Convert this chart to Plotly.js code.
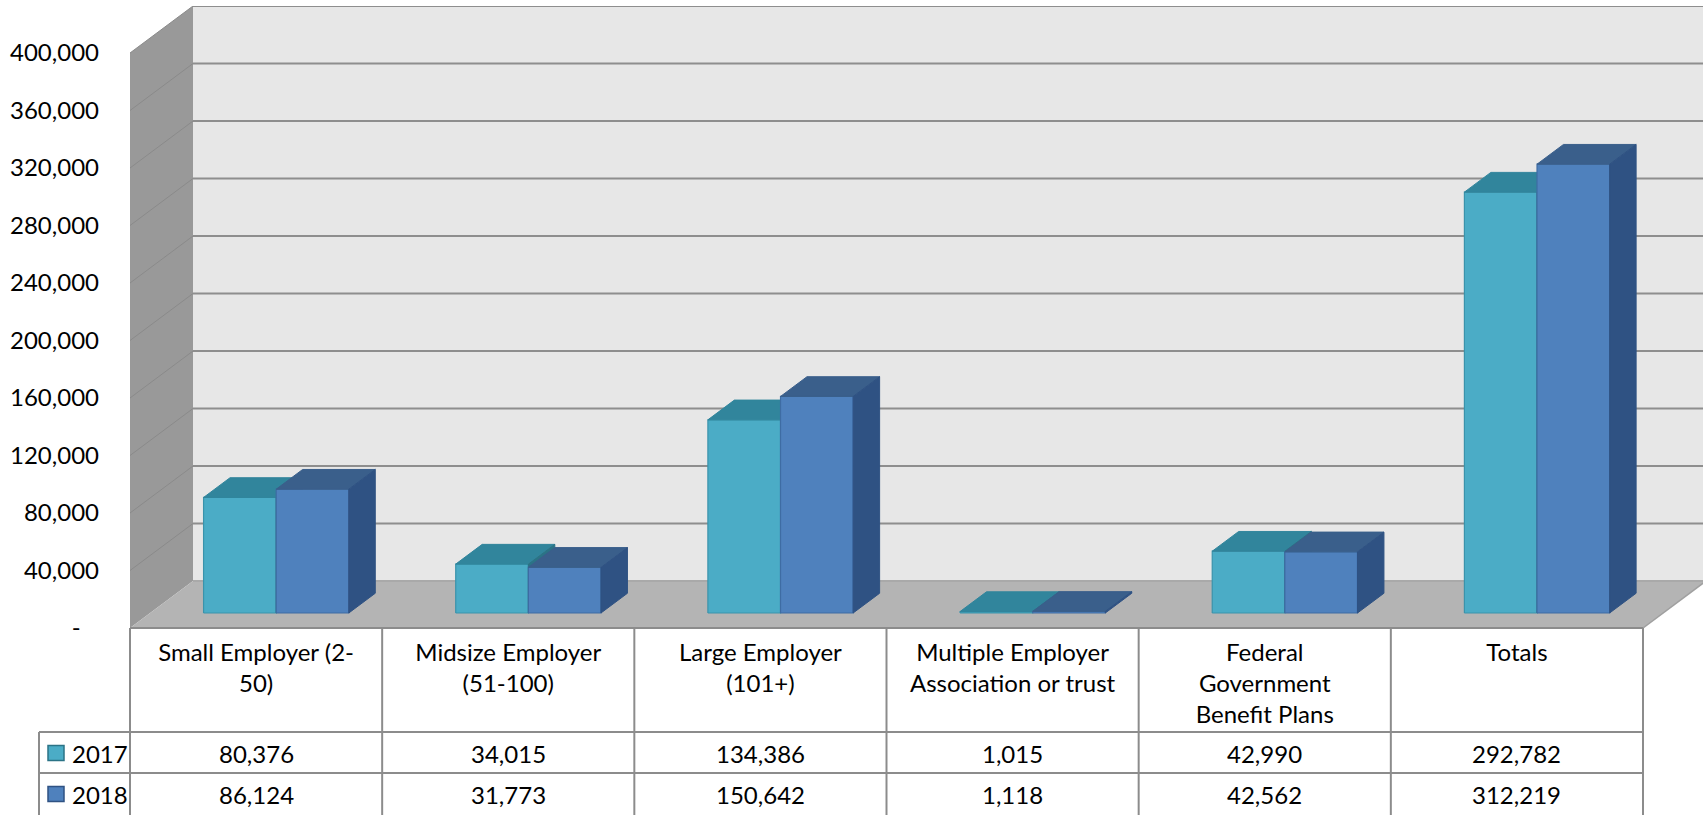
<!DOCTYPE html>
<html>
<head>
<meta charset="utf-8">
<script src="https://cdn.plot.ly/plotly-3.0.1.min.js"></script>
<style>
html,body{margin:0;padding:0;background:#fff;overflow:hidden}
#chart{width:1703px;height:815px}
</style>
</head>
<body>
<div id="chart"></div>
<script>
// ---------------- data ----------------
const categories = [
  "Small Employer (2-<br>50)",
  "Midsize Employer<br>(51-100)",
  "Large Employer<br>(101+)",
  "Multiple Employer<br>Association or trust",
  "Federal<br>Government<br>Benefit Plans",
  "Totals"
];
const seriesNames = ["2017", "2018"];
const values2017 = [80376, 34015, 134386, 1015, 42990, 292782];
const values2018 = [86124, 31773, 150642, 1118, 42562, 312219];
const yTickValues = [0, 40000, 80000, 120000, 160000, 200000, 240000, 280000, 320000, 360000, 400000];
const yTickLabels = ["-\u00a0\u00a0\u00a0", "40,000", "80,000", "120,000", "160,000", "200,000", "240,000", "280,000", "320,000", "360,000", "400,000"];

// ---------------- style ----------------
const FONT = "Lato, 'Liberation Sans', sans-serif";
const frontColors = ["#4BACC6", "#4F81BD"];
const frontLines  = ["#3A93AB", "#3E6CA3"];
const topColors   = ["#31859C", "#3A5F8B"];
const sideColors  = ["#2B7386", "#2F5283"];

// geometry (pixel layout of the 3-D frame)
const W = 1703, H = 815;
const L = 130, T = 6, B = 628, R = 1703;
const CAT_PX = (1643 - 130) / 6;
const Y_PX = 575 / 400000;
const DX = 63 / CAT_PX;      // full depth, x units
const DY = 47 / Y_PX;        // full depth, y units
const xRange = [-0.5, -0.5 + (R - L) / CAT_PX];
const yRange = [0, (B - T) / Y_PX];
const D0 = 15 / 47;          // bar front plane depth fraction
const BD = 0.42;             // bar depth fraction
const BAR_W = 0.288;
const BAR_START = 0.212;
const px2paperX = p => (p - L) / (R - L);
const py2paperY = p => (B - p) / (B - T);

const seriesValues = [values2017, values2018];

// ---------------- bar faces ----------------
const traces = [];
seriesValues.forEach((vals, s) => {
  const fx = [], fy = [], tx = [], ty = [], sx = [], sy = [];
  vals.forEach((v, i) => {
    const x0 = i - 0.5 + BAR_START + s * BAR_W + D0 * DX;
    const x1 = x0 + BAR_W;
    const base = D0 * DY;
    const top = base + v;
    const bdx = BD * DX, bdy = BD * DY;
    fx.push(x0, x1, x1, x0, x0, null);
    fy.push(base, base, top, top, base, null);
    tx.push(x0, x1, x1 + bdx, x0 + bdx, x0, null);
    ty.push(top, top, top + bdy, top + bdy, top, null);
    sx.push(x1, x1 + bdx, x1 + bdx, x1, x1, null);
    sy.push(base, base + bdy, top + bdy, top, base, null);
  });
  const common = {type: "scatter", mode: "lines", fill: "toself", hoverinfo: "skip", showlegend: false};
  traces.push(Object.assign({}, common, {name: seriesNames[s], x: fx, y: fy, fillcolor: frontColors[s], line: {color: frontLines[s], width: 1.2}}));
  traces.push(Object.assign({}, common, {name: seriesNames[s] + " top", x: tx, y: ty, fillcolor: topColors[s], line: {color: topColors[s], width: 1}}));
  traces.push(Object.assign({}, common, {name: seriesNames[s] + " side", x: sx, y: sy, fillcolor: sideColors[s], line: {color: sideColors[s], width: 1}}));
});

// ---------------- frame shapes ----------------
const shapes = [];
const xBackL = -0.5 + DX, xFar = xRange[1] + 1;
// back wall
shapes.push({type: "rect", xref: "x", yref: "y", x0: xBackL, x1: xFar, y0: DY, y1: 400000 + DY,
  fillcolor: "#E7E7E7", line: {width: 0}, layer: "below"});
// left wall
shapes.push({type: "path", xref: "x", yref: "y",
  path: `M -0.5,0 L -0.5,400000 L ${xBackL},${400000 + DY} L ${xBackL},${DY} Z`,
  fillcolor: "#999999", line: {width: 0}, layer: "below"});
// floor
shapes.push({type: "path", xref: "x", yref: "y",
  path: `M -0.5,0 L 5.5,0 L ${5.5 + DX},${DY} L ${xBackL},${DY} Z`,
  fillcolor: "#B4B4B4", line: {width: 0}, layer: "below"});
// gridlines
yTickValues.forEach(v => {
  if (v > 0) {
    shapes.push({type: "line", xref: "x", yref: "y", x0: xBackL, x1: xFar, y0: v + DY, y1: v + DY,
      line: {color: "#8E8E8E", width: 2}, layer: "below"});
    shapes.push({type: "line", xref: "x", yref: "y", x0: -0.5, x1: xBackL, y0: v, y1: v + DY,
      line: {color: "#8A8A8A", width: 1}, layer: "below"});
  }
});
shapes.push({type: "line", xref: "x", yref: "y", x0: xBackL, x1: xFar, y0: DY, y1: DY,
  line: {color: "#A9A9A9", width: 2}, layer: "below"});
shapes.push({type: "line", xref: "x", yref: "y", x0: 5.5, x1: 5.5 + DX, y0: 0, y1: DY,
  line: {color: "#A0A0A0", width: 1.5}, layer: "below"});

// ---------------- table ----------------
const gridCol = "#8C8C8C";
const rowTop = 732, rowMid = 773, tblBottom = 830;
const tblLeft = 39, tblRight = 1643;
const pl = (x0, y0, x1, y1) => shapes.push({type: "line", xref: "paper", yref: "paper",
  x0: px2paperX(x0), x1: px2paperX(x1), y0: py2paperY(y0), y1: py2paperY(y1),
  line: {color: gridCol, width: 2}});
pl(tblLeft, rowTop, tblRight, rowTop);
pl(tblLeft, rowMid, tblRight, rowMid);
pl(tblLeft, rowTop, tblLeft, tblBottom);
for (let k = 0; k <= 6; k++) {
  const x = 130 + k * CAT_PX;
  pl(x, B, x, tblBottom);
}
pl(130, B, tblRight, B);

const annotations = [];
const rowCenters = [753, 794];
seriesValues.forEach((vals, s) => {
  const yc = rowCenters[s];
  shapes.push({type: "rect", xref: "paper", yref: "paper",
    x0: px2paperX(48), x1: px2paperX(64), y0: py2paperY(yc - 7.5), y1: py2paperY(yc + 7.5),
    fillcolor: frontColors[s], line: {color: sideColors[s], width: 1.5}});
  annotations.push({xref: "paper", yref: "paper", x: px2paperX(70), y: py2paperY(yc),
    xanchor: "left", yanchor: "middle", text: seriesNames[s], showarrow: false,
    font: {family: FONT, size: 24, color: "#000"}});
  vals.forEach((v, i) => {
    annotations.push({xref: "x", yref: "paper", x: i, y: py2paperY(yc),
      xanchor: "center", yanchor: "middle", text: v.toLocaleString("en-US"), showarrow: false,
      font: {family: FONT, size: 24, color: "#000"}});
  });
});

const layout = {
  width: W, height: H,
  margin: {l: L, r: W - R, t: T, b: H - B, pad: 0},
  paper_bgcolor: "#FFFFFF", plot_bgcolor: "#FFFFFF",
  showlegend: false,
  font: {family: FONT, size: 24, color: "#000"},
  xaxis: {range: xRange, showgrid: false, zeroline: false, showline: false,
    tickmode: "array", tickvals: categories.map((c, i) => i), ticktext: categories,
    tickangle: 0, ticks: "", ticklabelstandoff: 8,
    tickfont: {family: FONT, size: 24, color: "#000"}, fixedrange: true},
  yaxis: {range: yRange, showgrid: false, zeroline: false, showline: false,
    tickmode: "array", tickvals: yTickValues, ticktext: yTickLabels,
    ticks: "", ticklabelstandoff: 30,
    tickfont: {family: FONT, size: 24, color: "#000"}, fixedrange: true},
  shapes: shapes,
  annotations: annotations
};

Plotly.newPlot("chart", traces, layout, {staticPlot: true, displayModeBar: false});
</script>
</body>
</html>
